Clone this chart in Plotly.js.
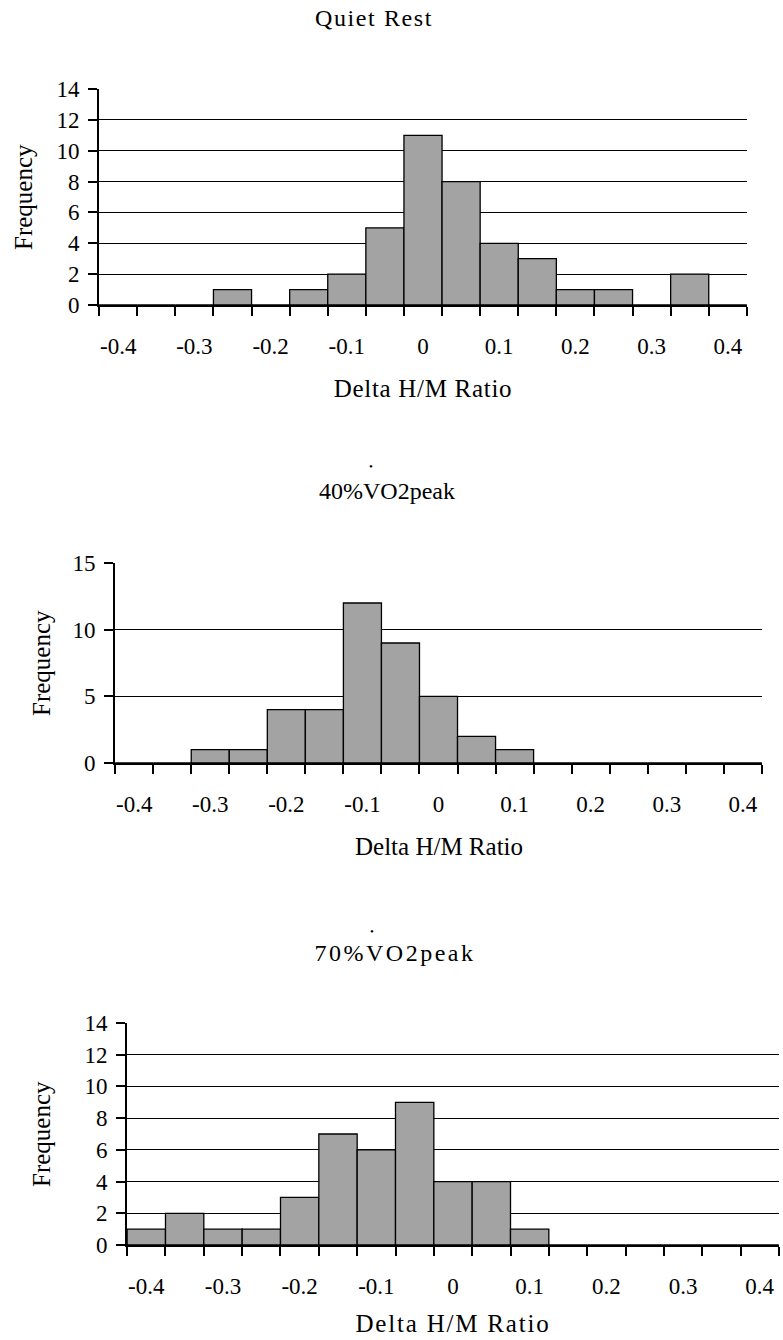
<!DOCTYPE html>
<html>
<head>
<meta charset="utf-8">
<script src="https://cdn.plot.ly/plotly-3.0.1.min.js"></script>
<style>
  html, body { margin: 0; padding: 0; background: #fff; }
  #chart { width: 783px; height: 1340px; }
  .subplot.x3y3 .xtick text, .subplot.x3y3 .ytick text { letter-spacing: 2px; }
  g.annotation[data-index="0"] text { letter-spacing: 1.6px; }
  g.annotation[data-index="3"] text { letter-spacing: 0.7px; }
  g.annotation[data-index="2"] text { letter-spacing: 2.5px; }
  g.annotation[data-index="5"] text { letter-spacing: 1.8px; }
</style>
</head>
<body>
<div id="chart"></div>
<script>
// ---- data ----
const binCenters = [-0.4, -0.35, -0.3, -0.25, -0.2, -0.15, -0.1, -0.05, 0, 0.05, 0.1, 0.15, 0.2, 0.25, 0.3, 0.35, 0.4];
const quietRest  = [0, 0, 0, 1, 0, 1, 2, 5, 11, 8, 4, 3, 1, 1, 0, 2, 0];
const vo2peak40  = [0, 0, 1, 1, 4, 4, 12, 9, 5, 2, 1, 0, 0, 0, 0, 0, 0];
const vo2peak70  = [1, 2, 1, 1, 3, 7, 6, 9, 4, 4, 1, 0, 0, 0, 0, 0, 0];
const xTickVals  = [-0.4, -0.3, -0.2, -0.1, 0, 0.1, 0.2, 0.3, 0.4];
const xTickText  = ['-0.4', '-0.3', '-0.2', '-0.1', '0', '0.1', '0.2', '0.3', '0.4'];
const yTicks14   = [0, 2, 4, 6, 8, 10, 12, 14];
const yTicks15   = [0, 5, 10, 15];
const panelTitles = ['Quiet Rest', '40%VO2peak', '70%VO2peak'];
const xTitle = 'Delta H/M Ratio';
const yTitle = 'Frequency';

// ---- layout helpers ----
const W = 783, H = 1340;
const binWidth = 0.05;
const edges = binCenters.map(c => c - binWidth / 2).concat([binCenters[binCenters.length - 1] + binWidth / 2]);
const FONT = 'Liberation Serif, Times New Roman, serif';
const px = v => v / W;
const py = v => 1 - v / H;
const xd = (a, b) => [px(a), px(b)];
const yd = (top, bottom) => [py(bottom), py(top)];

function bar(y, xa, ya) {
  return {
    type: 'bar', x: binCenters, y: y, width: binWidth,
    xaxis: xa, yaxis: ya,
    marker: { color: '#a3a3a3', line: { color: '#000', width: 1.3 } },
    hoverinfo: 'x+y', showlegend: false
  };
}

function xAxis(domain, anchor) {
  return {
    domain: domain, anchor: anchor,
    range: [edges[0] - 0.0002, edges[edges.length - 1] + 0.0002],
    tickmode: 'array', tickvals: xTickVals, ticktext: xTickText,
    ticks: 'outside', ticklen: 9, tickcolor: 'rgba(0,0,0,0)',
    ticklabelstandoff: 10,
    minor: { tickmode: 'array', tickvals: edges, ticks: 'outside', ticklen: 9, tickwidth: 2, tickcolor: '#000', showgrid: false },
    showline: true, linecolor: '#000', linewidth: 2,
    showgrid: false, zeroline: false,
    tickfont: { family: FONT, size: 23, color: '#000' },
    fixedrange: true
  };
}

function yAxis(domain, anchor, maxV, ticks) {
  return {
    domain: domain, anchor: anchor,
    range: [0, maxV],
    tickmode: 'array', tickvals: ticks,
    ticks: 'outside', ticklen: 9, tickwidth: 2, tickcolor: '#000',
    ticklabelstandoff: 4,
    showline: true, linecolor: '#000', linewidth: 2,
    showgrid: true, gridcolor: '#000', gridwidth: 1,
    zeroline: false,
    tickfont: { family: FONT, size: 23, color: '#000' },
    fixedrange: true
  };
}

const data = [
  bar(quietRest, 'x', 'y'),
  bar(vo2peak40, 'x2', 'y2'),
  bar(vo2peak70, 'x3', 'y3')
];

function ann(text, x, y, size, extra) {
  return Object.assign({
    text: text, xref: 'paper', yref: 'paper', x: x, y: y,
    xanchor: 'center', yanchor: 'middle', showarrow: false,
    font: { family: FONT, size: size, color: '#000' }
  }, extra || {});
}

const annotations = [
  // 0-2: panel titles
  ann(panelTitles[0], px(374), py(18), 24),
  ann(panelTitles[1], px(387), py(491), 24),
  ann(panelTitles[2], px(395), py(953), 24),
  // 3-5: x-axis titles
  ann(xTitle, 0.5, py(388), 25, { xref: 'x domain' }),
  ann(xTitle, 0.5, py(846), 25, { xref: 'x2 domain' }),
  ann(xTitle, 0.5, py(1323), 25, { xref: 'x3 domain' }),
  // 6-8: y-axis titles
  ann(yTitle, px(23), 0.5, 25, { yref: 'y domain', textangle: -90 }),
  ann(yTitle, px(41), 0.5, 25, { yref: 'y2 domain', textangle: -90 }),
  ann(yTitle, px(41), 0.5, 25, { yref: 'y3 domain', textangle: -90 }),
  // 9-10: dot over V (V-dot notation)
  ann('\u2022', px(371), py(466), 11),
  ann('\u2022', px(372), py(931), 11)
];

const layout = {
  width: W, height: H,
  margin: { l: 0, r: 0, t: 0, b: 0 },
  paper_bgcolor: '#fff', plot_bgcolor: '#fff',
  bargap: 0, showlegend: false,
  xaxis: xAxis(xd(99, 747), 'y'),
  yaxis: yAxis(yd(89, 305), 'x', 14, yTicks14),
  xaxis2: xAxis(xd(115, 762), 'y2'),
  yaxis2: yAxis(yd(563, 763), 'x2', 15, yTicks15),
  xaxis3: xAxis(xd(127, 779), 'y3'),
  yaxis3: yAxis(yd(1023, 1245), 'x3', 14, yTicks14),
  annotations: annotations
};

Plotly.newPlot('chart', data, layout, { staticPlot: true, displayModeBar: false });
</script>
</body>
</html>
